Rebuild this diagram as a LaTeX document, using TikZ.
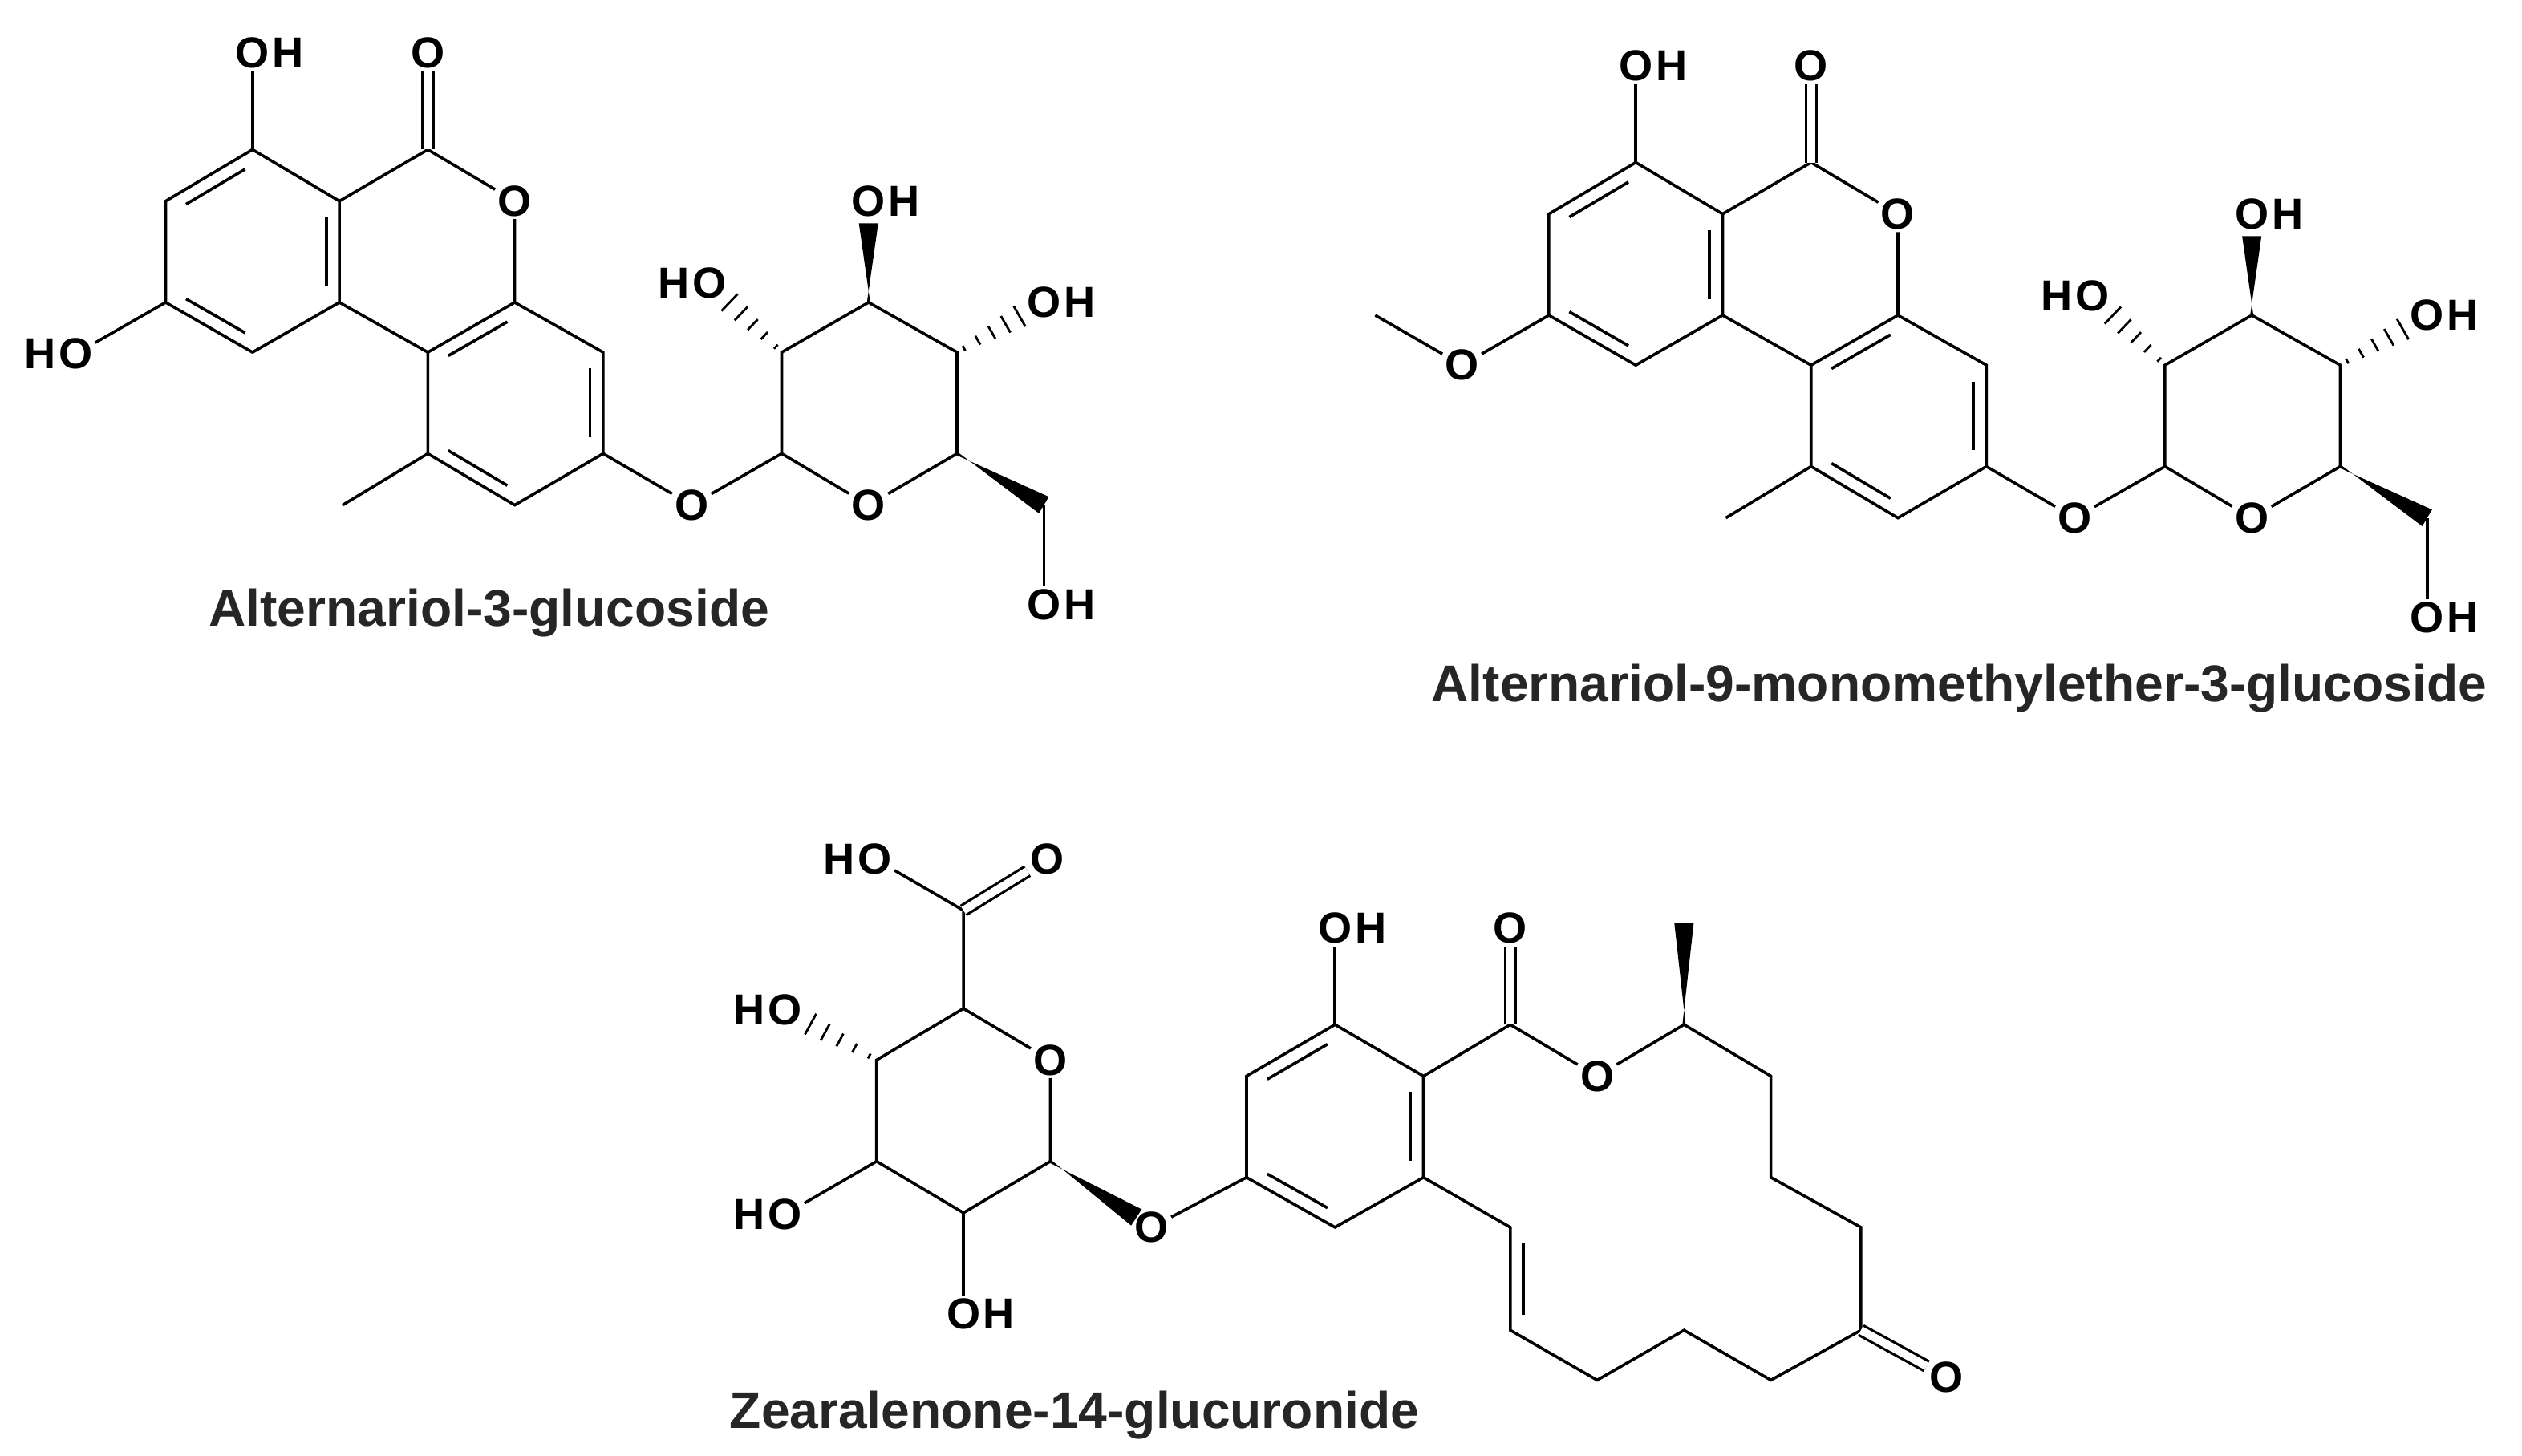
\documentclass[tikz,border=0pt]{standalone}
\usepackage{fontspec}
\setmainfont{Liberation Sans}
\usetikzlibrary{calc}
\tikzset{
  bond/.style={line width=1.8pt},
  atom/.style={font=\fontsize{27}{28}\selectfont\bfseries, inner sep=1.5pt},
  hatom/.style={font=\fontsize{27}{28}\selectfont\bfseries, inner sep=0pt},
  title/.style={font=\fontsize{32}{34}\selectfont\bfseries, text=black!85}
}
\newcommand\dbl[3]{\path ($(#1)!0.5!(#2)$) coordinate (dblm);
  \draw[bond] ($(#1)!0.16!(#2)+0.15*(#3)-0.15*(dblm)$) -- ($(#1)!0.84!(#2)+0.15*(#3)-0.15*(dblm)$);}
\newcommand\wdg[2]{\fill ($(#1)!1pt!90:(#2)$) -- ($(#2)!6pt!90:(#1)$) -- ($(#2)!6pt!-90:(#1)$) -- ($(#1)!1pt!-90:(#2)$) -- cycle;}
\newcommand\hsh[2]{\foreach \t [evaluate=\t as \w using 1+\t*7] in {0.1,0.3,0.5,0.7,0.9}
  {\draw[line width=1.4pt] ($(#1)!\t!(#2)!\w pt!90:(#2)$) -- ($(#1)!\t!(#2)!\w pt!-90:(#2)$);}}
\newcommand\OH[3]{\node[atom] (#1) at (#2,#3) {O}; \node[hatom, anchor=west] at (#1.east) {H};}
\newcommand\HO[3]{\node[atom] (#1) at (#2,#3) {O}; \node[hatom, anchor=east] at (#1.west) {H};}
\newcommand\Ox[3]{\node[atom] (#1) at (#2,#3) {O};}
\begin{document}
\begin{tikzpicture}[x=1pt,y=-1pt]
\useasboundingbox (0,0) rectangle (1568,905);
% ---------- alternariol glucosides ----------
\foreach \dx/\dy/\me in {0/0/0,860/8/1}{
\begin{scope}[shift={(\dx,\dy)}]
\coordinate (a1) at (157,93); \coordinate (a2) at (103,125); \coordinate (a3) at (103,188);
\coordinate (a4) at (157,219); \coordinate (a5) at (211,188); \coordinate (a6) at (211,125);
\coordinate (ac) at (157,156);
\coordinate (b1) at (266,93); \coordinate (b2) at (320,188); \coordinate (b3) at (266,219);
\coordinate (c3) at (375,219); \coordinate (c4) at (375,282); \coordinate (c5) at (320,314); \coordinate (c6) at (266,282);
\coordinate (cc) at (320,251); \coordinate (me) at (213,314);
\coordinate (s1) at (486,282); \coordinate (s5) at (595,282); \coordinate (s4) at (595,219);
\coordinate (s3) at (540,188); \coordinate (s2) at (486,219); \coordinate (s6) at (649,314);
\OH{oa}{157}{33}
\Ox{ob}{266}{33}
\Ox{or}{320}{125}
\Ox{og}{430}{314}
\Ox{os}{540}{314}
\HO{o2}{441}{176}
\OH{o3}{540}{125}
\OH{o4}{649}{188}
\OH{o6}{649}{376}
\draw[bond] (a1)--(a2)--(a3)--(a4)--(a5)--(a6)--cycle;
\dbl{a1}{a2}{ac}\dbl{a3}{a4}{ac}\dbl{a5}{a6}{ac}
\draw[bond] (a6)--(b1)--(or)--(b2)--(b3)--(a5);
\draw[bond] (a1)--(oa);
\draw[bond, double, double distance=5pt, line width=1.6pt] (b1)--(ob);
\draw[bond] (b2)--(c3)--(c4)--(c5)--(c6)--(b3);
\dbl{b2}{b3}{cc}\dbl{c3}{c4}{cc}\dbl{c5}{c6}{cc}
\draw[bond] (c6)--(me);
\draw[bond] (c4)--(og)--(s1)--(os)--(s5)--(s4)--(s3)--(s2)--(s1);
\draw[bond] (s6)--(o6);
\wdg{s5}{s6}
\wdg{s3}{$(s3)!0.78!(o3)$}
\hsh{s2}{$(s2)!0.8!(o2)$}
\hsh{s4}{$(s4)!0.8!(o4)$}
\ifnum\me=0
  \HO{ox}{47}{220}
  \draw[bond] (a3)--(ox);
\else
  \Ox{ox}{49}{219}
  \coordinate (mx) at (-5,188);
  \draw[bond] (a3)--(ox)--(mx);
\fi
\end{scope}}
\node[title] (t1) at (304,381) {Alternariol-3-glucoside};
\node[title] (t2) at (1218,428) {Alternariol-9-monomethylether-3-glucoside};
% ---------- zearalenone glucuronide ----------
\coordinate (r1) at (830,637); \coordinate (r2) at (775,669); \coordinate (r3) at (775,732);
\coordinate (r4) at (830,763); \coordinate (r5) at (885,732); \coordinate (r6) at (885,669);
\coordinate (rc) at (830,700);
\coordinate (k1) at (939,637); \coordinate (k2) at (1047,637); \coordinate (km) at (1047,574);
\coordinate (k3) at (1101,669); \coordinate (k4) at (1101,732); \coordinate (k5) at (1157,763);
\coordinate (k6) at (1157,827); \coordinate (k7) at (1101,858); \coordinate (k8) at (1047,827);
\coordinate (k9) at (993,858); \coordinate (k10) at (939,827); \coordinate (k11) at (939,763);
\coordinate (g1) at (653,722); \coordinate (g5) at (599,627); \coordinate (g4) at (545,659);
\coordinate (g3) at (545,722); \coordinate (g2) at (599,754); \coordinate (g6) at (599,566);
\OH{zo1}{830}{577}
\Ox{zo2}{939}{577}
\Ox{zo3}{993}{669}
\Ox{zo4}{1210}{856}
\Ox{zo5}{716}{763}
\Ox{zo6}{653}{659}
\HO{zo7}{544}{534}
\Ox{zo8}{651}{534}
\OH{zo9}{599}{817}
\HO{zo10}{488}{755}
\HO{zo11}{488}{628}
\draw[bond] (r1)--(r2)--(r3)--(r4)--(r5)--(r6)--cycle;
\dbl{r1}{r2}{rc}\dbl{r3}{r4}{rc}\dbl{r5}{r6}{rc}
\draw[bond] (r1)--(zo1);
\draw[bond] (r6)--(k1)--(zo3)--(k2)--(k3)--(k4)--(k5)--(k6)--(k7)--(k8)--(k9)--(k10)--(k11)--(r5);
\draw[bond, double, double distance=5pt, line width=1.6pt] (k1)--(zo2);
\draw[bond, double, double distance=5pt, line width=1.6pt] (k6)--(zo4);
\draw[bond] ($(k11)!0.15!(k10)+(8,0)$)--($(k11)!0.85!(k10)+(8,0)$);
\wdg{k2}{km}
\draw[bond] (r3)--(zo5);
\wdg{g1}{$(g1)!0.85!(zo5)$}
\draw[bond] (g1)--(zo6)--(g5)--(g4)--(g3)--(g2)--(g1);
\draw[bond] (g5)--(g6)--(zo7);
\draw[bond, double, double distance=5pt, line width=1.6pt] (g6)--(zo8);
\draw[bond] (g2)--(zo9);
\draw[bond] (g3)--(zo10);
\hsh{g4}{$(g4)!0.8!(zo11)$}
\node[title] (t3) at (668,880) {Zearalenone-14-glucuronide};
\end{tikzpicture}
\end{document}
